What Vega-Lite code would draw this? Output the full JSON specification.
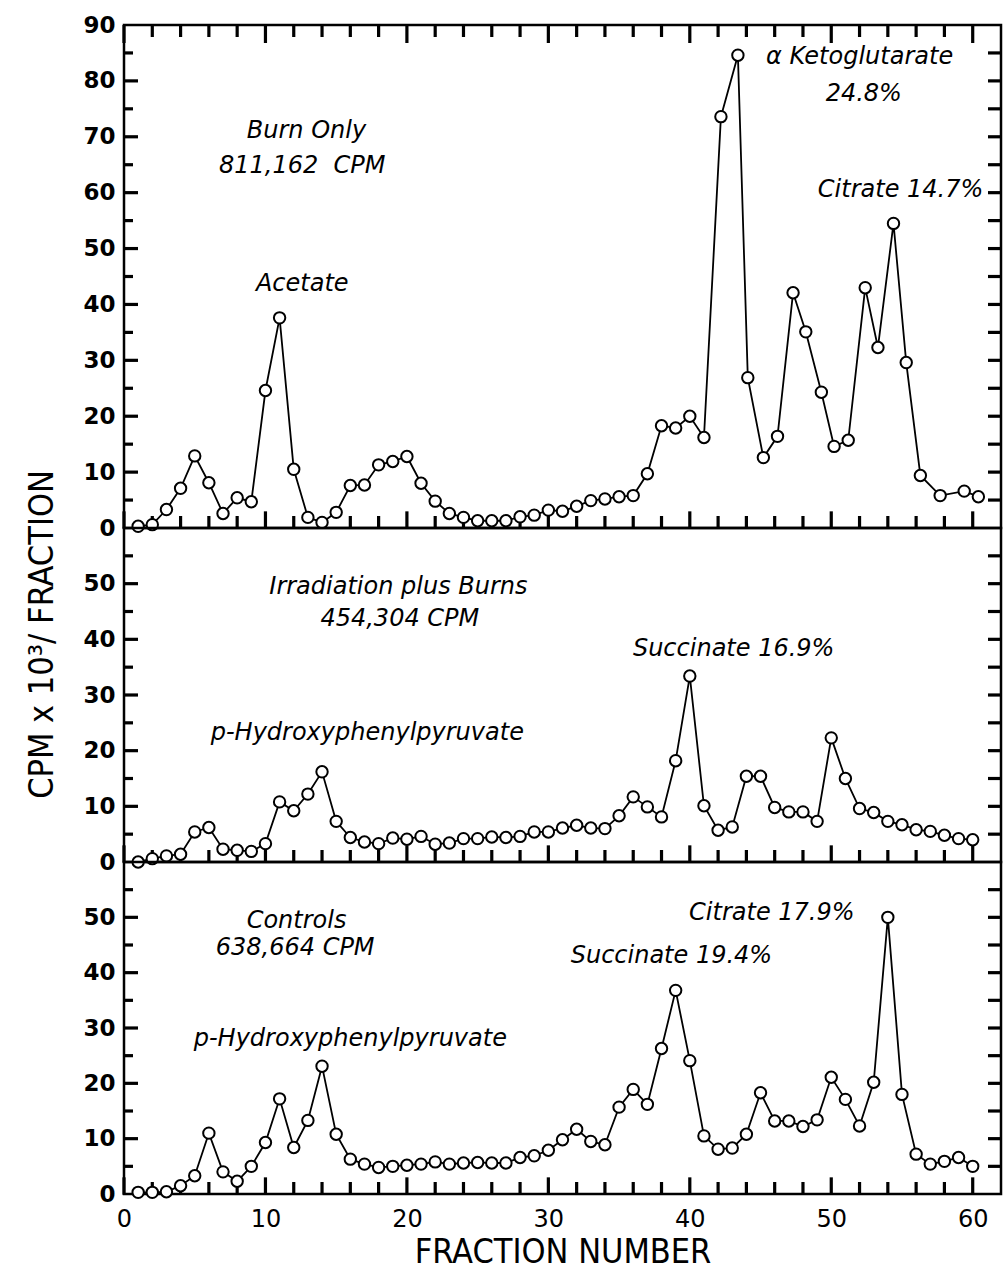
{
  "$schema": "https://vega.github.io/schema/vega-lite/v6.json",
  "background": "white",
  "padding": {"left": 23, "top": 12, "right": 0, "bottom": 0},
  "bounds": "flush",
  "spacing": 0,
  "config": {
    "view": {"stroke": "black", "strokeWidth": 2.5},
    "axis": {"domain": false, "grid": false, "ticks": false, "labelColor": "black", "titleColor": "black", "labelOverlap": false, "labelFlush": false, "labelBound": false, "title": null},
    "text": {"font": "DejaVu Sans", "fontStyle": "italic", "fontSize": 24, "color": "black", "baseline": "middle", "align": "center"}
  },
  "datasets": {
    "xt": [{"t": 0}, {"t": 2}, {"t": 4}, {"t": 6}, {"t": 8}, {"t": 10}, {"t": 12}, {"t": 14}, {"t": 16}, {"t": 18}, {"t": 20}, {"t": 22}, {"t": 24}, {"t": 26}, {"t": 28}, {"t": 30}, {"t": 32}, {"t": 34}, {"t": 36}, {"t": 38}, {"t": 40}, {"t": 42}, {"t": 44}, {"t": 46}, {"t": 48}, {"t": 50}, {"t": 52}, {"t": 54}, {"t": 56}, {"t": 58}, {"t": 60}],
    "yt90": [{"t": 5}, {"t": 10}, {"t": 15}, {"t": 20}, {"t": 25}, {"t": 30}, {"t": 35}, {"t": 40}, {"t": 45}, {"t": 50}, {"t": 55}, {"t": 60}, {"t": 65}, {"t": 70}, {"t": 75}, {"t": 80}, {"t": 85}],
    "yt60": [{"t": 5}, {"t": 10}, {"t": 15}, {"t": 20}, {"t": 25}, {"t": 30}, {"t": 35}, {"t": 40}, {"t": 45}, {"t": 50}, {"t": 55}],
    "burn": [
      {"f": 1, "v": 0.3}, {"f": 2, "v": 0.6}, {"f": 3, "v": 3.3}, {"f": 4, "v": 7.1}, {"f": 5, "v": 12.9},
      {"f": 6, "v": 8.1}, {"f": 7, "v": 2.6}, {"f": 8, "v": 5.4}, {"f": 9, "v": 4.7}, {"f": 10, "v": 24.6},
      {"f": 11, "v": 37.6}, {"f": 12, "v": 10.5}, {"f": 13, "v": 1.9}, {"f": 14, "v": 1.0}, {"f": 15, "v": 2.8},
      {"f": 16, "v": 7.6}, {"f": 17, "v": 7.7}, {"f": 18, "v": 11.3}, {"f": 19, "v": 11.9}, {"f": 20, "v": 12.8},
      {"f": 21, "v": 8.0}, {"f": 22, "v": 4.8}, {"f": 23, "v": 2.6}, {"f": 24, "v": 1.9}, {"f": 25, "v": 1.3},
      {"f": 26, "v": 1.3}, {"f": 27, "v": 1.3}, {"f": 28, "v": 2.0}, {"f": 29, "v": 2.3}, {"f": 30, "v": 3.2},
      {"f": 31, "v": 3.0}, {"f": 32, "v": 3.9}, {"f": 33, "v": 4.9}, {"f": 34, "v": 5.2}, {"f": 35, "v": 5.6},
      {"f": 36, "v": 5.8}, {"f": 37, "v": 9.7}, {"f": 38, "v": 18.3}, {"f": 39, "v": 17.9}, {"f": 40, "v": 20.0},
      {"f": 41, "v": 16.2}, {"f": 42.2, "v": 73.6}, {"f": 43.4, "v": 84.6}, {"f": 44.1, "v": 26.9}, {"f": 45.2, "v": 12.6},
      {"f": 46.2, "v": 16.4}, {"f": 47.3, "v": 42.1}, {"f": 48.2, "v": 35.1}, {"f": 49.3, "v": 24.3}, {"f": 50.2, "v": 14.6},
      {"f": 51.2, "v": 15.7}, {"f": 52.4, "v": 43.0}, {"f": 53.3, "v": 32.3}, {"f": 54.4, "v": 54.5}, {"f": 55.3, "v": 29.6},
      {"f": 56.3, "v": 9.4}, {"f": 57.7, "v": 5.8}, {"f": 59.4, "v": 6.6}, {"f": 60.4, "v": 5.6}
    ],
    "irr": [
      {"f": 1, "v": 0.0}, {"f": 2, "v": 0.6}, {"f": 3, "v": 1.1}, {"f": 4, "v": 1.4}, {"f": 5, "v": 5.4},
      {"f": 6, "v": 6.2}, {"f": 7, "v": 2.3}, {"f": 8, "v": 2.1}, {"f": 9, "v": 1.9}, {"f": 10, "v": 3.3},
      {"f": 11, "v": 10.8}, {"f": 12, "v": 9.2}, {"f": 13, "v": 12.2}, {"f": 14, "v": 16.2}, {"f": 15, "v": 7.3},
      {"f": 16, "v": 4.4}, {"f": 17, "v": 3.6}, {"f": 18, "v": 3.3}, {"f": 19, "v": 4.3}, {"f": 20, "v": 4.1},
      {"f": 21, "v": 4.6}, {"f": 22, "v": 3.2}, {"f": 23, "v": 3.4}, {"f": 24, "v": 4.2}, {"f": 25, "v": 4.2},
      {"f": 26, "v": 4.5}, {"f": 27, "v": 4.4}, {"f": 28, "v": 4.6}, {"f": 29, "v": 5.4}, {"f": 30, "v": 5.4},
      {"f": 31, "v": 6.1}, {"f": 32, "v": 6.6}, {"f": 33, "v": 6.1}, {"f": 34, "v": 6.0}, {"f": 35, "v": 8.3},
      {"f": 36, "v": 11.7}, {"f": 37, "v": 9.9}, {"f": 38, "v": 8.1}, {"f": 39, "v": 18.2}, {"f": 40, "v": 33.4},
      {"f": 41, "v": 10.1}, {"f": 42, "v": 5.7}, {"f": 43, "v": 6.3}, {"f": 44, "v": 15.4}, {"f": 45, "v": 15.4},
      {"f": 46, "v": 9.8}, {"f": 47, "v": 9.0}, {"f": 48, "v": 9.0}, {"f": 49, "v": 7.3}, {"f": 50, "v": 22.3},
      {"f": 51, "v": 15.0}, {"f": 52, "v": 9.6}, {"f": 53, "v": 8.9}, {"f": 54, "v": 7.3}, {"f": 55, "v": 6.7},
      {"f": 56, "v": 5.8}, {"f": 57, "v": 5.5}, {"f": 58, "v": 4.8}, {"f": 59, "v": 4.2}, {"f": 60, "v": 4.0}
    ],
    "ctrl": [
      {"f": 1, "v": 0.3}, {"f": 2, "v": 0.3}, {"f": 3, "v": 0.4}, {"f": 4, "v": 1.5}, {"f": 5, "v": 3.3},
      {"f": 6, "v": 11.0}, {"f": 7, "v": 4.0}, {"f": 8, "v": 2.3}, {"f": 9, "v": 5.0}, {"f": 10, "v": 9.3},
      {"f": 11, "v": 17.2}, {"f": 12, "v": 8.4}, {"f": 13, "v": 13.3}, {"f": 14, "v": 23.1}, {"f": 15, "v": 10.8},
      {"f": 16, "v": 6.3}, {"f": 17, "v": 5.4}, {"f": 18, "v": 4.8}, {"f": 19, "v": 5.0}, {"f": 20, "v": 5.2},
      {"f": 21, "v": 5.4}, {"f": 22, "v": 5.8}, {"f": 23, "v": 5.4}, {"f": 24, "v": 5.6}, {"f": 25, "v": 5.7},
      {"f": 26, "v": 5.6}, {"f": 27, "v": 5.6}, {"f": 28, "v": 6.6}, {"f": 29, "v": 6.9}, {"f": 30, "v": 7.9},
      {"f": 31, "v": 9.8}, {"f": 32, "v": 11.7}, {"f": 33, "v": 9.5}, {"f": 34, "v": 8.9}, {"f": 35, "v": 15.7},
      {"f": 36, "v": 18.9}, {"f": 37, "v": 16.2}, {"f": 38, "v": 26.3}, {"f": 39, "v": 36.8}, {"f": 40, "v": 24.1},
      {"f": 41, "v": 10.5}, {"f": 42, "v": 8.1}, {"f": 43, "v": 8.3}, {"f": 44, "v": 10.8}, {"f": 45, "v": 18.3},
      {"f": 46, "v": 13.2}, {"f": 47, "v": 13.2}, {"f": 48, "v": 12.2}, {"f": 49, "v": 13.4}, {"f": 50, "v": 21.1},
      {"f": 51, "v": 17.1}, {"f": 52, "v": 12.3}, {"f": 53, "v": 20.2}, {"f": 54, "v": 50.0}, {"f": 55, "v": 18.0},
      {"f": 56, "v": 7.2}, {"f": 57, "v": 5.4}, {"f": 58, "v": 5.9}, {"f": 59, "v": 6.6}, {"f": 60, "v": 5.0}
    ],
    "burnLabels": [
      {"x": 12.9, "y": 71.0, "label": "Burn Only"},
      {"x": 12.6, "y": 64.8, "label": "811,162\u00a0\u00a0CPM"},
      {"x": 12.6, "y": 43.7, "label": "Acetate"},
      {"x": 52.0, "y": 84.3, "label": "α Ketoglutarate"},
      {"x": 52.3, "y": 77.7, "label": "24.8%"},
      {"x": 54.9, "y": 60.5, "label": "Citrate 14.7%"}
    ],
    "irrLabels": [
      {"x": 19.4, "y": 49.4, "label": "Irradiation plus Burns"},
      {"x": 19.5, "y": 43.7, "label": "454,304 CPM"},
      {"x": 17.2, "y": 23.1, "label": "p-Hydroxyphenylpyruvate"},
      {"x": 43.1, "y": 38.2, "label": "Succinate 16.9%"}
    ],
    "ctrlLabels": [
      {"x": 12.2, "y": 49.4, "label": "Controls"},
      {"x": 12.1, "y": 44.4, "label": "638,664 CPM"},
      {"x": 16.0, "y": 28.0, "label": "p-Hydroxyphenylpyruvate"},
      {"x": 45.8, "y": 50.8, "label": "Citrate 17.9%"},
      {"x": 38.7, "y": 43.0, "label": "Succinate 19.4%"}
    ]
  },
  "vconcat": [
    {
      "width": 877, "height": 503,
      "layer": [
        {"data": {"name": "xt"}, "transform": [{"filter": "datum.t % 10 === 0"}],
         "mark": {"type": "point", "shape": "M0,-1V1", "stroke": "black", "strokeWidth": 3.2, "size": 300, "yOffset": -8, "opacity": 1},
         "encoding": {"x": {"field": "t", "type": "quantitative", "scale": {"domain": [0, 62], "nice": false, "zero": false}, "axis": null}, "y": {"datum": 0, "type": "quantitative", "scale": {"domain": [0, 90], "nice": false}, "axis": null}}},
        {"data": {"name": "xt"}, "transform": [{"filter": "datum.t % 10 !== 0"}],
         "mark": {"type": "point", "shape": "M0,-1V1", "stroke": "black", "strokeWidth": 3.2, "size": 144, "yOffset": -6, "opacity": 1},
         "encoding": {"x": {"field": "t", "type": "quantitative", "axis": null}, "y": {"datum": 0, "type": "quantitative", "axis": null}}},
        {"data": {"name": "xt"}, "transform": [{"filter": "datum.t % 10 === 0"}],
         "mark": {"type": "point", "shape": "M0,-1V1", "stroke": "black", "strokeWidth": 3.2, "size": 324, "yOffset": 9, "opacity": 1},
         "encoding": {"x": {"field": "t", "type": "quantitative", "axis": null}, "y": {"datum": 90, "type": "quantitative", "axis": null}}},
        {"data": {"name": "xt"}, "transform": [{"filter": "datum.t % 10 !== 0"}],
         "mark": {"type": "point", "shape": "M0,-1V1", "stroke": "black", "strokeWidth": 3.2, "size": 144, "yOffset": 6, "opacity": 1},
         "encoding": {"x": {"field": "t", "type": "quantitative", "axis": null}, "y": {"datum": 90, "type": "quantitative", "axis": null}}},
        {"data": {"name": "yt90"}, "transform": [{"filter": "datum.t % 10 === 0"}],
         "mark": {"type": "point", "shape": "M-1,0H1", "stroke": "black", "strokeWidth": 3.2, "size": 196, "xOffset": 7, "opacity": 1},
         "encoding": {"y": {"field": "t", "type": "quantitative", "axis": null}, "x": {"datum": 0, "type": "quantitative", "axis": null}}},
        {"data": {"name": "yt90"}, "transform": [{"filter": "datum.t % 10 !== 0"}],
         "mark": {"type": "point", "shape": "M-1,0H1", "stroke": "black", "strokeWidth": 3.2, "size": 81, "xOffset": 4.5, "opacity": 1},
         "encoding": {"y": {"field": "t", "type": "quantitative", "axis": null}, "x": {"datum": 0, "type": "quantitative", "axis": null}}},
        {"data": {"name": "yt90"},
         "mark": {"type": "point", "shape": "M-1,0H1", "stroke": "black", "strokeWidth": 3.2, "size": 169, "xOffset": -6.5, "opacity": 1},
         "encoding": {"y": {"field": "t", "type": "quantitative", "axis": null}, "x": {"datum": 62, "type": "quantitative", "axis": null}}},
        {
          "data": {"name": "burn"},
          "mark": {"type": "line", "color": "black", "strokeWidth": 1.8},
          "encoding": {
            "x": {"field": "f", "type": "quantitative", "axis": {"orient": "bottom", "labels": false}},
            "y": {"field": "v", "type": "quantitative",
              "axis": {"orient": "left", "values": [0,10,20,30,40,50,60,70,80,90],
                "labelFont": "DejaVu Sans", "labelFontWeight": "bold", "labelFontSize": 23, "labelPadding": 9}}
          }
        },
        {
          "data": {"name": "burn"},
          "mark": {"type": "point", "filled": true, "fill": "white", "stroke": "black", "strokeWidth": 2, "size": 130, "opacity": 1},
          "encoding": {
            "x": {"field": "f", "type": "quantitative", "axis": null},
            "y": {"field": "v", "type": "quantitative", "axis": null}
          }
        },
        {
          "data": {"name": "burnLabels"},
          "mark": {"type": "text"},
          "encoding": {
            "x": {"field": "x", "type": "quantitative", "axis": null},
            "y": {"field": "y", "type": "quantitative", "axis": null},
            "text": {"field": "label"}
          }
        }
      ],
      "resolve": {"axis": {"x": "independent", "y": "independent"}}
    },
    {
      "width": 877, "height": 334,
      "layer": [
        {"data": {"name": "xt"}, "transform": [{"filter": "datum.t % 10 === 0"}],
         "mark": {"type": "point", "shape": "M0,-1V1", "stroke": "black", "strokeWidth": 3.2, "size": 300, "yOffset": -8, "opacity": 1},
         "encoding": {"x": {"field": "t", "type": "quantitative", "scale": {"domain": [0, 62], "nice": false, "zero": false}, "axis": null}, "y": {"datum": 0, "type": "quantitative", "scale": {"domain": [0, 60], "nice": false}, "axis": null}}},
        {"data": {"name": "xt"}, "transform": [{"filter": "datum.t % 10 !== 0"}],
         "mark": {"type": "point", "shape": "M0,-1V1", "stroke": "black", "strokeWidth": 3.2, "size": 144, "yOffset": -6, "opacity": 1},
         "encoding": {"x": {"field": "t", "type": "quantitative", "axis": null}, "y": {"datum": 0, "type": "quantitative", "axis": null}}},
        {"data": {"name": "yt60"}, "transform": [{"filter": "datum.t % 10 === 0"}],
         "mark": {"type": "point", "shape": "M-1,0H1", "stroke": "black", "strokeWidth": 3.2, "size": 196, "xOffset": 7, "opacity": 1},
         "encoding": {"y": {"field": "t", "type": "quantitative", "axis": null}, "x": {"datum": 0, "type": "quantitative", "axis": null}}},
        {"data": {"name": "yt60"}, "transform": [{"filter": "datum.t % 10 !== 0"}],
         "mark": {"type": "point", "shape": "M-1,0H1", "stroke": "black", "strokeWidth": 3.2, "size": 81, "xOffset": 4.5, "opacity": 1},
         "encoding": {"y": {"field": "t", "type": "quantitative", "axis": null}, "x": {"datum": 0, "type": "quantitative", "axis": null}}},
        {"data": {"name": "yt60"},
         "mark": {"type": "point", "shape": "M-1,0H1", "stroke": "black", "strokeWidth": 3.2, "size": 169, "xOffset": -6.5, "opacity": 1},
         "encoding": {"y": {"field": "t", "type": "quantitative", "axis": null}, "x": {"datum": 62, "type": "quantitative", "axis": null}}},
        {
          "data": {"name": "irr"},
          "mark": {"type": "line", "color": "black", "strokeWidth": 1.8},
          "encoding": {
            "x": {"field": "f", "type": "quantitative", "axis": {"orient": "bottom", "labels": false}},
            "y": {"field": "v", "type": "quantitative",
              "axis": {"orient": "left", "values": [0,10,20,30,40,50],
                "title": "CPM x 10³/ FRACTION", "titleFont": "DejaVu Sans Condensed, Liberation Sans Narrow, DejaVu Sans", "titleFontSize": 34, "titleFontWeight": "normal",
                "titleX": -82, "titleY": 106, "titleAngle": 270, "titleAlign": "center", "titleBaseline": "middle",
                "labelFont": "DejaVu Sans", "labelFontWeight": "bold", "labelFontSize": 23, "labelPadding": 9}}
          }
        },
        {
          "data": {"name": "irr"},
          "mark": {"type": "point", "filled": true, "fill": "white", "stroke": "black", "strokeWidth": 2, "size": 130, "opacity": 1},
          "encoding": {
            "x": {"field": "f", "type": "quantitative", "axis": null},
            "y": {"field": "v", "type": "quantitative", "axis": null}
          }
        },
        {
          "data": {"name": "irrLabels"},
          "mark": {"type": "text"},
          "encoding": {
            "x": {"field": "x", "type": "quantitative", "axis": null},
            "y": {"field": "y", "type": "quantitative", "axis": null},
            "text": {"field": "label"}
          }
        }
      ],
      "resolve": {"axis": {"x": "independent", "y": "independent"}}
    },
    {
      "width": 877, "height": 332,
      "layer": [
        {"data": {"name": "xt"}, "transform": [{"filter": "datum.t % 10 === 0"}],
         "mark": {"type": "point", "shape": "M0,-1V1", "stroke": "black", "strokeWidth": 3.2, "size": 300, "yOffset": -8, "opacity": 1},
         "encoding": {"x": {"field": "t", "type": "quantitative", "scale": {"domain": [0, 62], "nice": false, "zero": false}, "axis": null}, "y": {"datum": 0, "type": "quantitative", "scale": {"domain": [0, 60], "nice": false}, "axis": null}}},
        {"data": {"name": "xt"}, "transform": [{"filter": "datum.t % 10 !== 0"}],
         "mark": {"type": "point", "shape": "M0,-1V1", "stroke": "black", "strokeWidth": 3.2, "size": 144, "yOffset": -6, "opacity": 1},
         "encoding": {"x": {"field": "t", "type": "quantitative", "axis": null}, "y": {"datum": 0, "type": "quantitative", "axis": null}}},
        {"data": {"name": "yt60"}, "transform": [{"filter": "datum.t % 10 === 0"}],
         "mark": {"type": "point", "shape": "M-1,0H1", "stroke": "black", "strokeWidth": 3.2, "size": 196, "xOffset": 7, "opacity": 1},
         "encoding": {"y": {"field": "t", "type": "quantitative", "axis": null}, "x": {"datum": 0, "type": "quantitative", "axis": null}}},
        {"data": {"name": "yt60"}, "transform": [{"filter": "datum.t % 10 !== 0"}],
         "mark": {"type": "point", "shape": "M-1,0H1", "stroke": "black", "strokeWidth": 3.2, "size": 81, "xOffset": 4.5, "opacity": 1},
         "encoding": {"y": {"field": "t", "type": "quantitative", "axis": null}, "x": {"datum": 0, "type": "quantitative", "axis": null}}},
        {"data": {"name": "yt60"},
         "mark": {"type": "point", "shape": "M-1,0H1", "stroke": "black", "strokeWidth": 3.2, "size": 169, "xOffset": -6.5, "opacity": 1},
         "encoding": {"y": {"field": "t", "type": "quantitative", "axis": null}, "x": {"datum": 62, "type": "quantitative", "axis": null}}},
        {
          "data": {"name": "ctrl"},
          "mark": {"type": "line", "color": "black", "strokeWidth": 1.8},
          "encoding": {
            "x": {"field": "f", "type": "quantitative",
              "axis": {"orient": "bottom", "values": [0,10,20,30,40,50,60],
                "labelFont": "DejaVu Sans", "labelFontSize": 24, "labelPadding": 13,
                "title": "FRACTION NUMBER", "titleFont": "DejaVu Sans Condensed, Liberation Sans Narrow, DejaVu Sans", "titleFontSize": 34, "titleFontWeight": "normal", "titlePadding": 4}},
            "y": {"field": "v", "type": "quantitative",
              "axis": {"orient": "left", "values": [0,10,20,30,40,50],
                "labelFont": "DejaVu Sans", "labelFontWeight": "bold", "labelFontSize": 23, "labelPadding": 9}}
          }
        },
        {
          "data": {"name": "ctrl"},
          "mark": {"type": "point", "filled": true, "fill": "white", "stroke": "black", "strokeWidth": 2, "size": 130, "opacity": 1},
          "encoding": {
            "x": {"field": "f", "type": "quantitative", "axis": null},
            "y": {"field": "v", "type": "quantitative", "axis": null}
          }
        },
        {
          "data": {"name": "ctrlLabels"},
          "mark": {"type": "text"},
          "encoding": {
            "x": {"field": "x", "type": "quantitative", "axis": null},
            "y": {"field": "y", "type": "quantitative", "axis": null},
            "text": {"field": "label"}
          }
        }
      ],
      "resolve": {"axis": {"x": "independent", "y": "independent"}}
    }
  ]
}
